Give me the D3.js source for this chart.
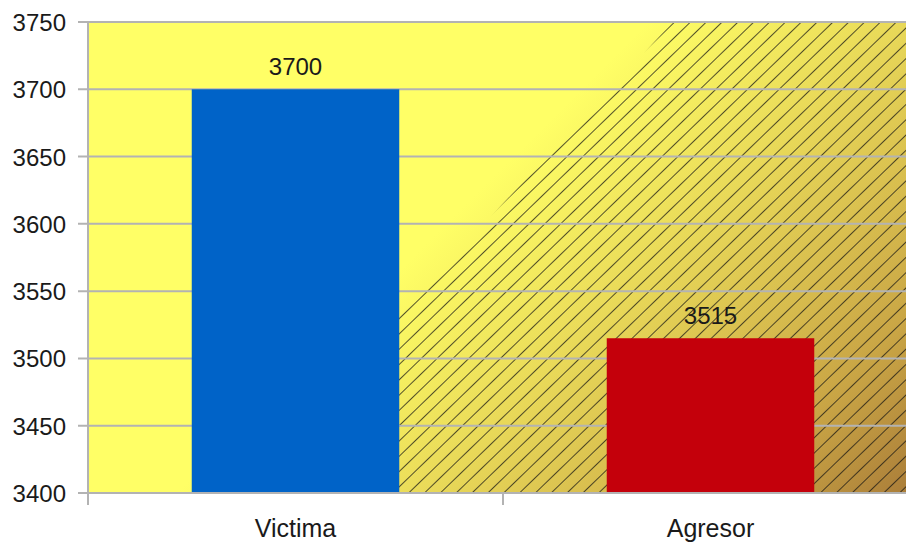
<!DOCTYPE html>
<html>
<head>
<meta charset="utf-8">
<script src="https://cdn.jsdelivr.net/npm/d3@7"></script>
<style>
  body { margin: 0; background: #fff; }
  text { font-family: "Liberation Sans", Arial, sans-serif; fill: #1a1a1a; }
</style>
</head>
<body>
<svg id="chart" width="906" height="546"></svg>
<script>
var categories = ['Victima', 'Agresor'];
var values = [3700, 3515];
var barColors = ['#0063c8', '#c4000b'];
var yTicks = [3400, 3450, 3500, 3550, 3600, 3650, 3700, 3750];

var svg = d3.select('#chart');
var plotLeft = 88, plotRight = 918, plotTop = 22, plotBottom = 493;

var x = d3.scaleBand()
    .domain(categories)
    .range([plotLeft, plotRight])
    .paddingInner(0.5)
    .paddingOuter(0.25);

var y = d3.scaleLinear()
    .domain([3400, 3750])
    .range([plotBottom, plotTop]);

var defs = svg.append('defs');

// background gradient, yellow turning brown to the lower right
var grad = defs.append('linearGradient')
    .attr('id', 'bg')
    .attr('gradientUnits', 'userSpaceOnUse')
    .attr('x1', 470).attr('y1', 200)
    .attr('x2', 900).attr('y2', 630);
grad.append('stop').attr('offset', 0).attr('stop-color', '#ffff66');
grad.append('stop').attr('offset', 0.3).attr('stop-color', '#e8d858');
grad.append('stop').attr('offset', 0.65).attr('stop-color', '#c9a545');
grad.append('stop').attr('offset', 1).attr('stop-color', '#946030');

var hatch = defs.append('pattern')
    .attr('id', 'hatch')
    .attr('patternUnits', 'userSpaceOnUse')
    .attr('width', 12).attr('height', 11)
    .attr('patternTransform', 'rotate(-44)');
hatch.append('line')
    .attr('x1', 0).attr('y1', 0)
    .attr('x2', 12).attr('y2', 0)
    .attr('stroke', '#111')
    .attr('stroke-width', 1.5);

svg.append('rect')
    .attr('x', plotLeft).attr('y', plotTop)
    .attr('width', 906 - plotLeft).attr('height', plotBottom - plotTop)
    .attr('fill', 'url(#bg)');

// hatched area right of the diagonal
svg.append('polygon')
    .attr('points', [[673, plotTop], [906, plotTop], [906, plotBottom], [232, plotBottom]].join(' '))
    .attr('fill', 'url(#hatch)')
    .attr('opacity', 0.95);

// gridlines
svg.append('g')
    .selectAll('line')
    .data(yTicks)
    .enter()
    .append('line')
    .attr('x1', plotLeft - 10).attr('x2', 906)
    .attr('y1', function (d) { return y(d); })
    .attr('y2', function (d) { return y(d); })
    .attr('stroke', '#b3b3b3')
    .attr('stroke-width', 2);

// bars
svg.append('g')
    .selectAll('rect')
    .data(values)
    .enter()
    .append('rect')
    .attr('x', function (d, i) { return x(categories[i]); })
    .attr('y', function (d) { return y(d); })
    .attr('width', x.bandwidth())
    .attr('height', function (d) { return plotBottom - y(d); })
    .attr('fill', function (d, i) { return barColors[i]; });

// value labels
svg.append('g')
    .selectAll('text')
    .data(values)
    .enter()
    .append('text')
    .attr('x', function (d, i) { return x(categories[i]) + x.bandwidth() / 2; })
    .attr('y', function (d) { return y(d) - 14; })
    .attr('text-anchor', 'middle')
    .style('font-size', '24px')
    .text(function (d) { return d; });

// axes
svg.append('line')
    .attr('x1', plotLeft).attr('x2', plotLeft)
    .attr('y1', plotTop).attr('y2', plotBottom + 12)
    .attr('stroke', '#b3b3b3').attr('stroke-width', 2);
svg.append('line')
    .attr('x1', plotLeft).attr('x2', 906)
    .attr('y1', plotBottom).attr('y2', plotBottom)
    .attr('stroke', '#b3b3b3').attr('stroke-width', 2);

svg.append('g')
    .selectAll('line')
    .data(categories.slice(1))
    .enter()
    .append('line')
    .attr('x1', function (d) { return x(d) - x.step() * x.paddingInner() / 2; })
    .attr('x2', function (d) { return x(d) - x.step() * x.paddingInner() / 2; })
    .attr('y1', plotBottom).attr('y2', plotBottom + 12)
    .attr('stroke', '#b3b3b3').attr('stroke-width', 2);

svg.append('g')
    .selectAll('text')
    .data(yTicks)
    .enter()
    .append('text')
    .attr('x', 66)
    .attr('y', function (d) { return y(d) + 9; })
    .attr('text-anchor', 'end')
    .style('font-size', '24px')
    .text(function (d) { return d; });

svg.append('g')
    .selectAll('text')
    .data(categories)
    .enter()
    .append('text')
    .attr('x', function (d) { return x(d) + x.bandwidth() / 2; })
    .attr('y', 537)
    .attr('text-anchor', 'middle')
    .style('font-size', '25px')
    .text(function (d) { return d; });
</script>
</body>
</html>
